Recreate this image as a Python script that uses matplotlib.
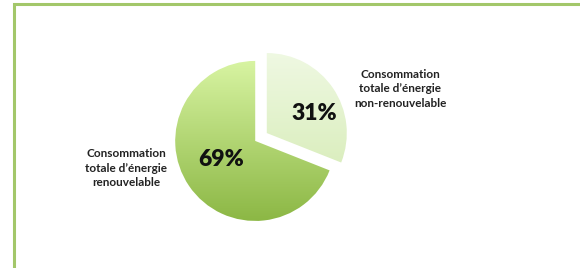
import matplotlib
matplotlib.use("Agg")
import matplotlib.pyplot as plt
import numpy as np
from matplotlib.colors import LinearSegmentedColormap
from matplotlib.patches import Rectangle

categories = ["Consommation\ntotale d\u2019énergie\nnon-renouvelable",
              "Consommation\ntotale d\u2019énergie\nrenouvelable"]
values = [31, 69]
pct_labels = ["31%", "69%"]

W, H = 580, 268
fig = plt.figure(figsize=(W / 100, H / 100), dpi=100)
ax = fig.add_axes([0, 0, 1, 1])

# frame border
fig.patches.append(Rectangle((13.5 / W, -0.1), 1.2, (H - 4) / H + 0.1,
                             transform=fig.transFigure, fill=False,
                             edgecolor="#a3c76a", linewidth=2.2))

cx, cy, r = 261, H - 137, 80
wedges, _ = ax.pie(values, center=(cx, cy), radius=r, startangle=90,
                   counterclock=False, explode=[7, 7],
                   wedgeprops=dict(linewidth=0), frame=True)

grads = [("#f0f9e4", "#cfe8aa"), ("#def9aa", "#89b541")]
for w, (c_top, c_bot) in zip(wedges, grads):
    w.set_alpha(0)
    cmap = LinearSegmentedColormap.from_list("g", [c_top, c_bot])
    grad = np.linspace(0, 1, 256).reshape(-1, 1)
    x0, x1 = cx - r - 20, cx + r + 20
    y0, y1 = cy - r - 10, cy + r + 10
    im = ax.imshow(grad, cmap=cmap, extent=(x0, x1, y0, y1), aspect="auto",
                   origin="upper", zorder=2)
    im.set_clip_path(w)

ax.set_xlim(0, W)
ax.set_ylim(0, H)
ax.set_aspect("equal")
ax.axis("off")

font = "Lato"
ax.text(314, H - 114, pct_labels[0], ha="center", va="center",
        fontsize=16.5, fontweight="heavy", family=font, color="#111111", zorder=5)
ax.text(221, H - 160, pct_labels[1], ha="center", va="center",
        fontsize=16.5, fontweight="heavy", family=font, color="#111111", zorder=5)

ax.text(400, H - 89, categories[0], ha="center", va="center",
        fontsize=8.5, fontweight="bold", family=font, color="#222222",
        linespacing=1.4, zorder=5)
ax.text(126, H - 168, categories[1], ha="center", va="center",
        fontsize=8.5, fontweight="bold", family=font, color="#222222",
        linespacing=1.4, zorder=5)

fig.savefig("out.png", dpi=100, facecolor="white")
